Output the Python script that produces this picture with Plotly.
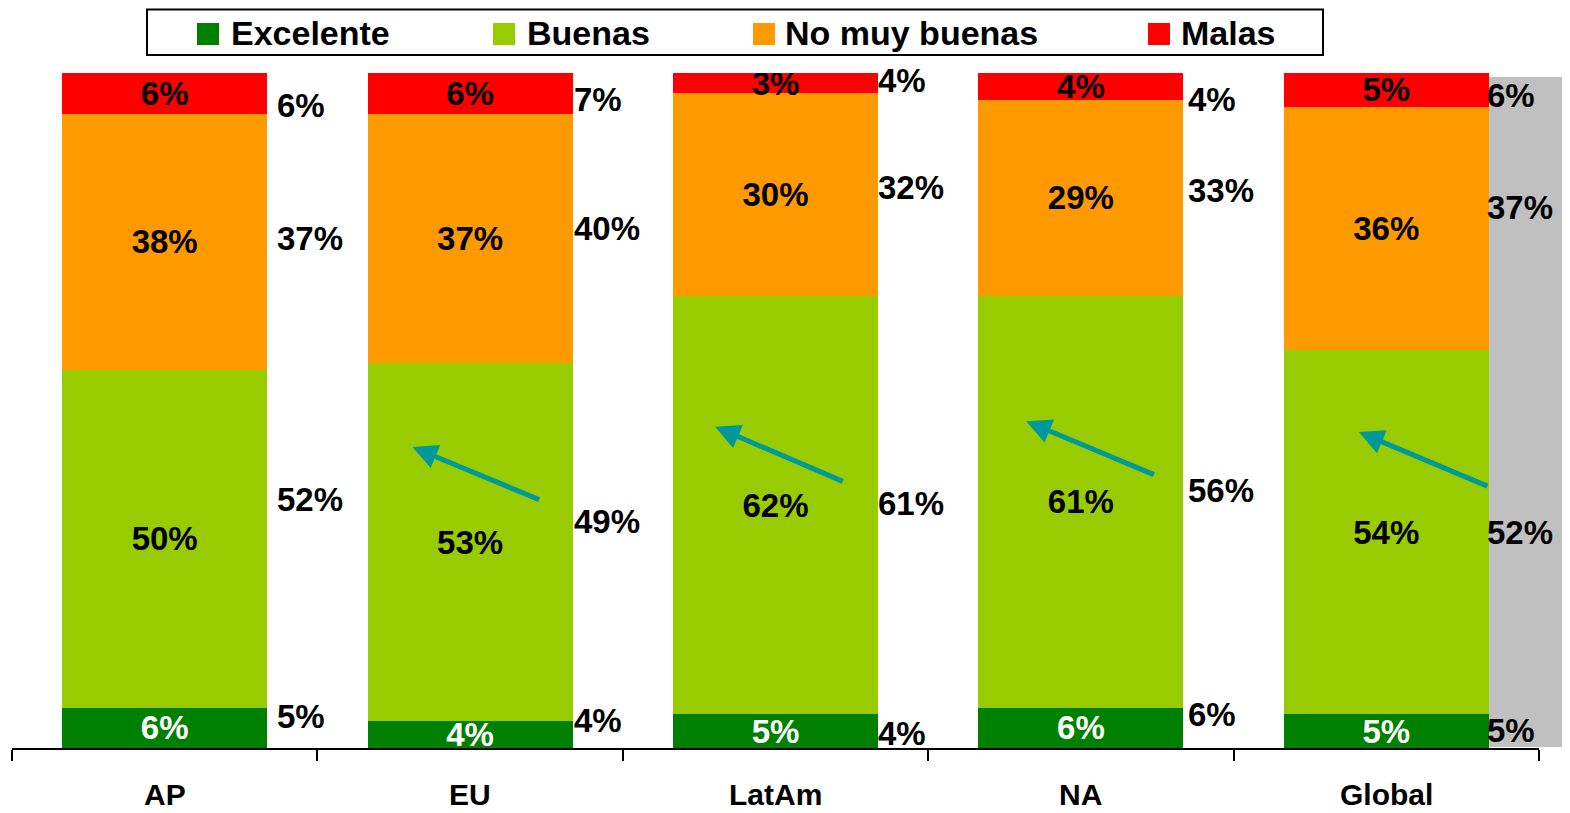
import plotly.graph_objects as go

# ---------------- data ----------------
categories = ["AP", "EU", "LatAm", "NA", "Global"]
series_names = ["Excelente", "Buenas", "No muy buenas", "Malas"]
excelente = [6, 4, 5, 6, 5]
buenas = [50, 53, 62, 61, 54]
no_muy_buenas = [38, 37, 30, 29, 36]
malas = [6, 6, 3, 4, 5]

# previous-period values (shown to the right of each bar)
prev_excelente = [5, 4, 4, 6, 5]
prev_buenas = [52, 49, 61, 56, 52]
prev_no_muy_buenas = [37, 40, 32, 33, 37]
prev_malas = [6, 7, 4, 4, 6]

# ---------------- style / layout ----------------
colors = ["#008000", "#99CC00", "#FF9900", "#FF0000"]
text_colors = ["white", "black", "black", "black"]
FONT = "Liberation Sans, Arial, sans-serif"
OFF = 8                      # page body margin
W, H = 1570 - OFF, 813 - OFF
ML, MT = 12 - OFF, 73 - OFF
MR = W - (1539 - OFF)
MB = H - (748 - OFF)
BAR_W = 0.671

def px_x(px):  # page pixel -> paper x
    return (px - OFF - ML) / (W - ML - MR)

def px_y(py):  # page pixel -> paper y
    return (H - MB - (py - OFF)) / (H - MT - MB)

series = [excelente, buenas, no_muy_buenas, malas]
prev_series = [prev_excelente, prev_buenas, prev_no_muy_buenas, prev_malas]
xs = list(range(len(categories)))

fig = go.Figure()
for name, vals, col, tcol in zip(series_names, series, colors, text_colors):
    fig.add_trace(go.Bar(
        x=xs, y=vals, name=name, width=BAR_W,
        marker=dict(color=col, line=dict(width=0)),
        text=[f"{v}%" for v in vals], textposition="inside",
        insidetextanchor="middle", textangle=0, constraintext="none",
        textfont=dict(family=FONT, size=33, color=tcol, weight="bold"),
        hoverinfo="skip", showlegend=False,
    ))

annotations = []
shapes = []

# previous-period labels: placed at the stacked midpoints with small nudges
label_yshift = [
    [15, 14, 1, 13, 1],
    [39, 34, 12, 28, 6],
    [0, 27, 14, 28, 31],
    [-12, -3, -1, -6, -2],
]
label_xshift = [8, -1, -2, 3, -4]
for i in xs:
    cum = 0
    for s in range(4):
        v = prev_series[s][i]
        mid = cum + v / 2
        cum += v
        annotations.append(dict(
            x=i + BAR_W / 2, y=mid, xref="x", yref="y", text=f"{v}%",
            showarrow=False, xanchor="left", yanchor="middle",
            xshift=label_xshift[i], yshift=label_yshift[s][i],
            font=dict(family=FONT, size=33, color="black", weight="bold"),
        ))

# trend arrows (category index, tail dx, tail y, head dx, head y)
arrows = [
    (1, 0.231, 36.7, -0.189, 44.6),
    (2, 0.225, 39.4, -0.198, 47.6),
    (3, 0.244, 40.4, -0.179, 48.4),
    (4, 0.336, 38.7, -0.090, 46.8),
]
for c, tdx, ty, hdx, hy in arrows:
    annotations.append(dict(
        x=c + hdx, y=hy, ax=c + tdx, ay=ty, xref="x", yref="y",
        axref="x", ayref="y", text="", showarrow=True,
        arrowhead=2, arrowsize=1, arrowwidth=5, arrowcolor="#009999",
    ))

# category labels
for i, cat in enumerate(categories):
    annotations.append(dict(
        x=i, y=px_y(794), xref="x", yref="paper", text=cat, showarrow=False,
        xanchor="center", yanchor="middle",
        font=dict(family=FONT, size=30, color="black", weight="bold"),
    ))

# gray highlight to the right of the Global bar
shapes.append(dict(
    type="rect", xref="paper", yref="paper", layer="below",
    x0=(4 + BAR_W / 2 + 0.5) / len(categories), x1=px_x(1575),
    y0=px_y(747), y1=px_y(77),
    fillcolor="#C0C0C0", line=dict(width=0),
))

# custom legend
shapes.append(dict(
    type="rect", xref="paper", yref="paper",
    x0=px_x(147), x1=px_x(1323), y0=px_y(55), y1=px_y(9.5),
    fillcolor="white", line=dict(color="black", width=2),
))
legend_sq_x = [197, 493, 753, 1148]
legend_tx_x = [229, 525, 783, 1179]
for name, col, sx, tx in zip(series_names, colors, legend_sq_x, legend_tx_x):
    shapes.append(dict(
        type="rect", xref="paper", yref="paper",
        x0=px_x(sx), x1=px_x(sx + 22), y0=px_y(45), y1=px_y(23),
        fillcolor=col, line=dict(width=0),
    ))
    annotations.append(dict(
        x=px_x(tx), y=px_y(33), xref="paper", yref="paper", text=name,
        showarrow=False, xanchor="left", yanchor="middle",
        font=dict(family=FONT, size=34, color="black", weight="bold"),
    ))

fig.update_layout(
    barmode="stack", width=W, height=H,
    margin=dict(l=ML, r=MR, t=MT, b=MB, pad=0),
    paper_bgcolor="white", plot_bgcolor="rgba(0,0,0,0)",
    showlegend=False,
    xaxis=dict(
        range=[-0.5, len(categories) - 0.5], tickmode="array",
        tickvals=[i - 0.5 for i in range(len(categories) + 1)],
        ticktext=["" for _ in range(len(categories) + 1)],
        ticks="outside", ticklen=11, tickwidth=2, tickcolor="black",
        showline=True, linecolor="black", linewidth=2,
        showgrid=False, zeroline=False, fixedrange=True,
    ),
    yaxis=dict(range=[0, 100], visible=False, fixedrange=True),
    annotations=annotations, shapes=shapes,
)

fig.write_html("out.html")
